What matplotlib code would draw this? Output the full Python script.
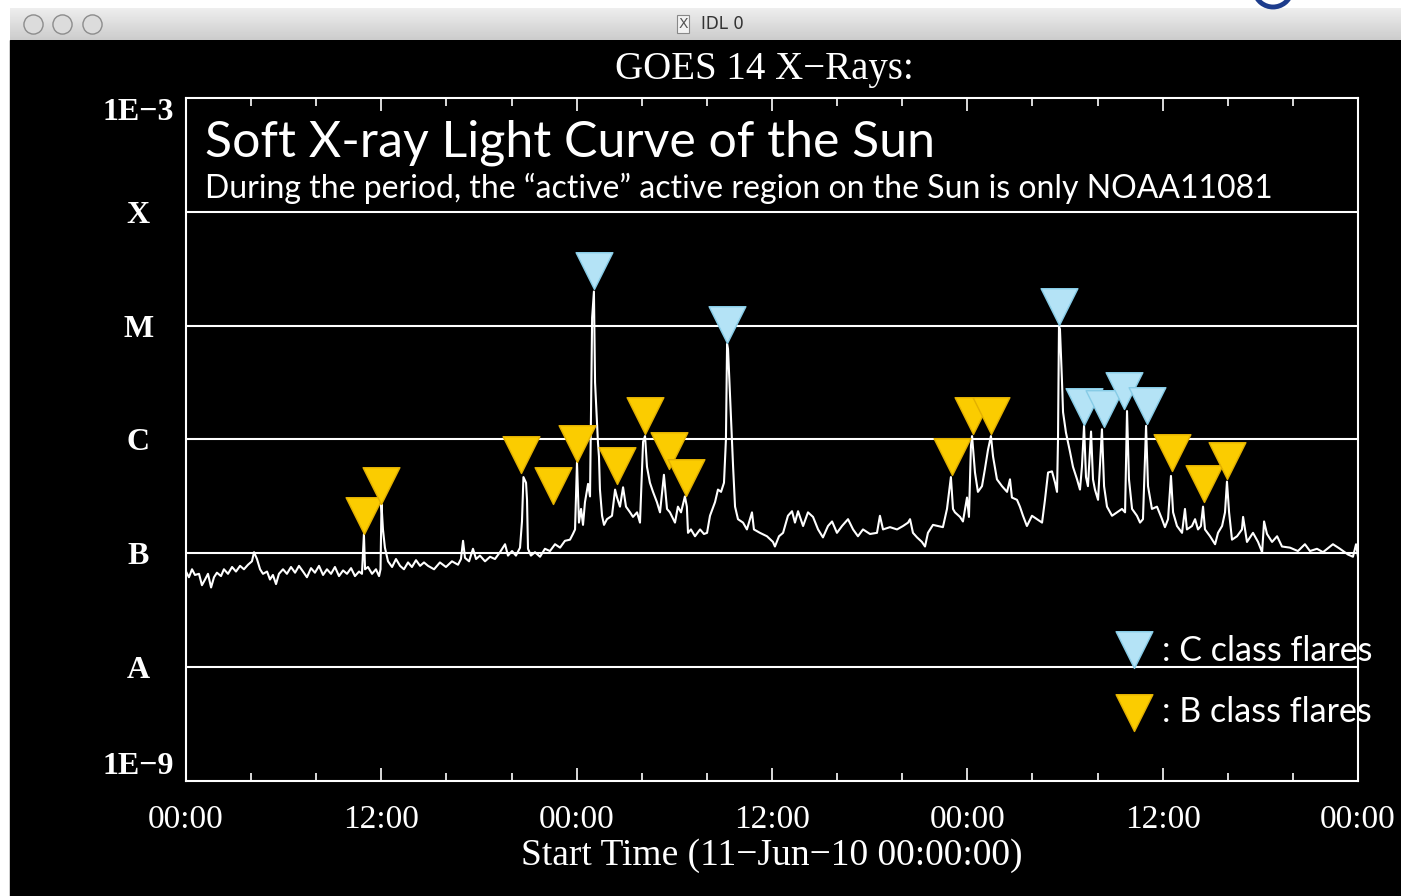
import numpy as np
import matplotlib
matplotlib.use('Agg')
import matplotlib.pyplot as plt
from matplotlib.path import Path
from matplotlib.patches import Rectangle, Arc
from matplotlib.ticker import FixedLocator, MultipleLocator, NullLocator

# GOES 14 long channel, 11-13 Jun 2010
# time in hours from 11-Jun-10 00:00, flux as log10(W m^-2)
hours = [
    0.00, 0.18, 0.37, 0.55, 0.80, 0.98, 1.17, 1.35, 1.54, 1.72,
    1.90, 2.15, 2.33, 2.58, 2.83, 3.07, 3.32, 3.56, 3.81, 4.05,
    4.18, 4.36, 4.55, 4.73, 4.98, 5.16, 5.34, 5.53, 5.71, 5.96,
    6.20, 6.45, 6.70, 6.94, 7.19, 7.43, 7.68, 7.92, 8.17, 8.42,
    8.66, 8.91, 9.15, 9.40, 9.65, 9.89, 10.14, 10.38, 10.63, 10.81,
    10.93, 11.00, 11.18, 11.43, 11.67, 11.86, 11.95, 12.01, 12.10, 12.22,
    12.41, 12.66, 12.90, 13.15, 13.39, 13.64, 13.88, 14.13, 14.38, 14.62,
    14.87, 15.24, 15.60, 15.97, 16.34, 16.71, 16.89, 17.02, 17.14, 17.39,
    17.63, 17.82, 18.06, 18.37, 18.68, 18.98, 19.29, 19.60, 19.78, 20.03,
    20.27, 20.52, 20.64, 20.73, 20.89, 20.95, 21.01, 21.19, 21.44, 21.75,
    22.05, 22.36, 22.67, 22.98, 23.28, 23.59, 23.77, 23.90, 24.02, 24.14,
    24.27, 24.39, 24.51, 24.70, 24.82, 24.95, 25.06, 25.13, 25.25, 25.31,
    25.37, 25.43, 25.56, 25.68, 25.86, 26.17, 26.36, 26.48, 26.66, 26.85,
    27.03, 27.28, 27.46, 27.71, 27.89, 28.08, 28.20, 28.32, 28.50, 28.69,
    28.93, 29.12, 29.36, 29.55, 29.73, 30.04, 30.22, 30.41, 30.65, 30.77,
    30.84, 31.02, 31.27, 31.58, 31.82, 32.01, 32.19, 32.50, 32.68, 32.87,
    33.05, 33.17, 33.24, 33.30, 33.36, 33.48, 33.61, 33.73, 33.91, 34.22,
    34.46, 34.77, 34.89, 35.26, 35.69, 36.06, 36.18, 36.43, 36.68, 36.98,
    37.23, 37.41, 37.60, 37.91, 38.21, 38.52, 38.83, 39.13, 39.44, 39.69,
    39.99, 40.30, 40.67, 40.98, 41.28, 41.59, 42.02, 42.45, 42.63, 42.82,
    43.25, 43.68, 44.05, 44.36, 44.48, 44.66, 44.91, 45.21, 45.40, 45.58,
    45.89, 46.20, 46.50, 46.75, 46.99, 47.12, 47.24, 47.55, 47.73, 47.98,
    48.10, 48.22, 48.29, 48.47, 48.65, 48.90, 49.08, 49.27, 49.45, 49.58,
    49.82, 50.13, 50.44, 50.62, 50.74, 51.05, 51.23, 51.42, 51.66, 51.97,
    52.28, 52.59, 52.77, 52.96, 53.20, 53.39, 53.51, 53.57, 53.63, 53.69,
    53.81, 53.88, 54.06, 54.31, 54.49, 54.74, 54.92, 55.04, 55.17, 55.29,
    55.41, 55.60, 55.72, 55.84, 56.03, 56.27, 56.40, 56.58, 56.89, 57.20,
    57.50, 57.69, 57.81, 57.93, 58.12, 58.42, 58.61, 58.79, 58.98, 59.10,
    59.34, 59.65, 59.96, 60.14, 60.33, 60.51, 60.64, 60.88, 61.19, 61.37,
    61.49, 61.80, 61.99, 62.17, 62.35, 62.48, 62.60, 62.91, 63.22, 63.40,
    63.65, 63.83, 63.95, 64.08, 64.26, 64.57, 64.87, 64.94, 65.18, 65.55,
    65.86, 66.11, 66.23, 66.41, 66.72, 67.03, 67.33, 67.82, 68.31, 68.74,
    69.05, 69.48, 69.85, 70.46, 70.89, 71.38, 71.69, 71.88, 72.00,
]
log_flux = [
    -7.16, -7.21, -7.14, -7.19, -7.18, -7.28, -7.23, -7.18, -7.30, -7.21,
    -7.17, -7.20, -7.14, -7.18, -7.12, -7.16, -7.11, -7.14, -7.10, -7.07,
    -6.99, -7.05, -7.14, -7.18, -7.16, -7.23, -7.19, -7.27, -7.18, -7.14,
    -7.18, -7.12, -7.17, -7.11, -7.16, -7.21, -7.13, -7.17, -7.11, -7.19,
    -7.14, -7.18, -7.12, -7.20, -7.15, -7.18, -7.13, -7.20, -7.16, -7.18,
    -6.83, -7.14, -7.12, -7.18, -7.14, -7.20, -7.14, -6.57, -6.79, -6.95,
    -7.07, -7.12, -7.05, -7.11, -7.14, -7.08, -7.12, -7.06, -7.11, -7.08,
    -7.11, -7.14, -7.08, -7.12, -7.07, -7.10, -7.05, -6.89, -7.04, -7.07,
    -6.96, -7.05, -7.02, -7.07, -7.03, -7.05, -6.99, -6.92, -7.02, -6.98,
    -7.02, -6.95, -6.72, -6.33, -6.38, -6.53, -6.96, -7.02, -6.99, -7.03,
    -6.96, -6.98, -6.92, -6.95, -6.89, -6.88, -6.83, -6.79, -6.20, -6.73,
    -6.61, -6.75, -6.55, -6.39, -6.50, -4.93, -4.70, -5.50, -5.85, -6.03,
    -6.15, -6.44, -6.67, -6.75, -6.70, -6.67, -6.44, -6.51, -6.59, -6.42,
    -6.59, -6.64, -6.68, -6.64, -6.73, -6.02, -5.97, -6.24, -6.38, -6.46,
    -6.55, -6.64, -6.31, -6.61, -6.64, -6.73, -6.59, -6.64, -6.50, -6.59,
    -6.82, -6.79, -6.85, -6.79, -6.83, -6.82, -6.67, -6.55, -6.44, -6.46,
    -6.38, -6.00, -5.16, -5.21, -5.41, -5.82, -6.24, -6.59, -6.70, -6.73,
    -6.79, -6.64, -6.79, -6.82, -6.85, -6.90, -6.94, -6.85, -6.82, -6.67,
    -6.63, -6.73, -6.63, -6.76, -6.64, -6.68, -6.79, -6.86, -6.76, -6.72,
    -6.82, -6.76, -6.70, -6.79, -6.85, -6.79, -6.83, -6.82, -6.67, -6.79,
    -6.77, -6.79, -6.76, -6.73, -6.70, -6.82, -6.86, -6.90, -6.94, -6.82,
    -6.75, -6.76, -6.77, -6.61, -6.33, -6.61, -6.64, -6.68, -6.72, -6.51,
    -6.68, -6.06, -5.97, -6.29, -6.46, -6.41, -6.26, -6.09, -5.97, -6.15,
    -6.35, -6.41, -6.46, -6.35, -6.51, -6.53, -6.59, -6.67, -6.76, -6.67,
    -6.70, -6.73, -6.53, -6.29, -6.28, -6.38, -6.46, -6.00, -5.01, -5.03,
    -5.47, -5.76, -5.94, -6.11, -6.24, -6.35, -6.44, -6.24, -5.88, -6.33,
    -6.41, -5.93, -6.35, -6.44, -6.53, -5.91, -6.41, -6.59, -6.67, -6.64,
    -6.61, -6.64, -5.75, -6.35, -6.61, -6.67, -6.73, -6.70, -5.88, -6.41,
    -6.61, -6.59, -6.70, -6.77, -6.70, -6.32, -6.64, -6.76, -6.82, -6.61,
    -6.79, -6.76, -6.70, -6.79, -6.76, -6.59, -6.79, -6.85, -6.92, -6.82,
    -6.76, -6.64, -6.37, -6.64, -6.88, -6.85, -6.79, -6.68, -6.90, -6.82,
    -6.90, -6.99, -6.72, -6.83, -6.90, -6.85, -6.94, -6.95, -6.98, -6.92,
    -6.98, -6.96, -6.99, -6.92, -6.96, -7.01, -7.03, -6.92, -7.03,
]

# flare peaks marked on the curve
c_hours = [25.06, 33.24, 53.63, 55.17, 56.40, 57.62, 59.04]
c_log = [-4.68, -5.15, -4.99, -5.87, -5.89, -5.73, -5.86]
b_hours = [10.93, 11.98, 20.58, 22.55, 24.02, 26.48, 28.20, 29.67, 30.72,
           47.06, 48.35, 49.45, 60.57, 62.54, 63.95]
b_log = [-6.83, -6.57, -6.29, -6.57, -6.20, -6.39, -5.95, -6.26, -6.50,
         -6.31, -5.95, -5.95, -6.28, -6.55, -6.35]

class_levels = [1e-9, 1e-8, 1e-7, 1e-6, 1e-5, 1e-4, 1e-3]
class_labels = ['1E\u22129', 'A', 'B', 'C', 'M', 'X', '1E\u22123']
time_ticks = [0, 12, 24, 36, 48, 60, 72]
time_labels = ['00:00', '12:00', '00:00', '12:00', '00:00', '12:00', '00:00']

W, H = 1401, 896
SERIF = 'Liberation Serif'
SANS = 'Lato'
C_FILL, C_EDGE = '#b4e3f6', '#86cbe6'
B_FILL, B_EDGE = '#fbcc00', '#e2b000'

fig = plt.figure(figsize=(W / 100, H / 100), dpi=100)
fig.patch.set_facecolor('white')
fig.add_artist(Rectangle((10 / W, 0), 1 - 10 / W, 1 - 40 / H,
                         transform=fig.transFigure, color='black', zorder=0))

# window title bar
bar = fig.add_axes([10 / W, 1 - 40 / H, 1 - 10 / W, 32 / H])
bar.imshow(np.linspace(0.93, 0.80, 32)[:, None], cmap='gray', vmin=0, vmax=1,
           aspect='auto', extent=[0, 1, 0, 1])
bar.scatter([0.0165, 0.0374, 0.059], [0.5, 0.5, 0.5], s=190,
            c='#dcdcdc', edgecolors='#8c8c8c', linewidths=1)
bar.set_xlim(0, 1)
bar.set_ylim(0, 1)
bar.axis('off')
fig.text(683 / W, 1 - 24 / H, 'X', ha='center', va='center', fontsize=10,
         family='DejaVu Sans', color='#555555',
         bbox=dict(boxstyle='square,pad=0.12', fc='#f2f2f2', ec='#888888', lw=0.8))
fig.text(701 / W, 1 - 24 / H, 'IDL 0', ha='left', va='center', fontsize=12,
         family='DejaVu Sans', color='#333333')
fig.add_artist(Arc((1273 / W, 1 + 12 / H), 38 / W, 38 / H, theta1=200, theta2=340,
                   transform=fig.transFigure, color='#1d3c8c', lw=3.5))

# main plot
ax = fig.add_axes([186 / W, 1 - 781 / H, 1172 / W, 683 / H])
ax.set_facecolor('black')
ax.plot(hours, 10 ** np.array(log_flux), color='white', lw=1.5, zorder=3)
ax.set_yscale('log')
ax.set_xlim(0, 72)
ax.set_ylim(1e-9, 1e-3)

for lvl in class_levels[1:-1]:
    ax.axhline(lvl, color='white', lw=1.5, zorder=1)

for sp in ax.spines.values():
    sp.set_color('white')
    sp.set_linewidth(1.5)

ax.xaxis.set_major_locator(FixedLocator(time_ticks))
ax.xaxis.set_minor_locator(MultipleLocator(4))
ax.set_xticklabels(time_labels)
ax.tick_params(axis='x', which='both', direction='in', top=True, colors='white',
               width=1.2, pad=17, labelsize=24)
ax.tick_params(axis='x', which='major', length=9.5)
ax.tick_params(axis='x', which='minor', length=5.8)
for lbl in ax.get_xticklabels():
    lbl.set_family(SERIF)

ax.yaxis.set_major_locator(FixedLocator(class_levels))
ax.yaxis.set_minor_locator(NullLocator())
ax.set_yticklabels(class_labels)
ax.tick_params(axis='y', length=0, pad=34.5, colors='white', labelsize=23)
for i, lbl in enumerate(ax.get_yticklabels()):
    lbl.set_family(SERIF)
    lbl.set_weight('bold')
    lbl.set_ha('center')
    if i == 0:
        lbl.set_va('bottom')
    elif i == len(class_labels) - 1:
        lbl.set_va('top')

ax.set_xlabel('Start Time (11\u2212Jun\u221210 00:00:00)', color='white',
              fontsize=27, family=SERIF, labelpad=2)
fig.text(764 / W, 1 - 70 / H, 'GOES 14 X\u2212Rays:', ha='center', va='center',
         color='white', fontsize=28, family=SERIF)

# flare markers, tip on the peak
tri = Path([(-1, 2), (1, 2), (0, 0), (-1, 2)],
           [Path.MOVETO, Path.LINETO, Path.LINETO, Path.CLOSEPOLY])
ax.plot(b_hours, 10 ** np.array(b_log), ls='none', marker=tri, ms=53,
        mfc=B_FILL, mec=B_EDGE, mew=1, zorder=4, clip_on=False)
ax.plot(c_hours, 10 ** np.array(c_log), ls='none', marker=tri, ms=53,
        mfc=C_FILL, mec=C_EDGE, mew=1, zorder=5, clip_on=False)

# annotations
ax.text(0.0162, 0.915, 'Soft X-ray Light Curve of the Sun', transform=ax.transAxes,
        color='white', fontsize=36, family=SANS, va='baseline')
ax.text(0.0162, 0.8536,
        'During the period, the \u201cactive\u201d active region on the Sun is only NOAA11081',
        transform=ax.transAxes, color='white', fontsize=23, family=SANS,
        va='baseline')

ax.plot([0.809], [0.1654], transform=ax.transAxes, ls='none', marker=tri, ms=53,
        mfc=C_FILL, mec=C_EDGE, mew=1, clip_on=False, zorder=5)
ax.plot([0.809], [0.0732], transform=ax.transAxes, ls='none', marker=tri, ms=53,
        mfc=B_FILL, mec=B_EDGE, mew=1, clip_on=False, zorder=5)
ax.text(0.8328, 0.1903, ': C class flares', transform=ax.transAxes, color='white',
        fontsize=24.5, family=SANS, va='center', clip_on=False, zorder=2)
ax.text(0.8328, 0.101, ': B class flares', transform=ax.transAxes, color='white',
        fontsize=24.5, family=SANS, va='center', clip_on=False, zorder=2)

fig.savefig('out.png', dpi=100, facecolor=fig.get_facecolor())
